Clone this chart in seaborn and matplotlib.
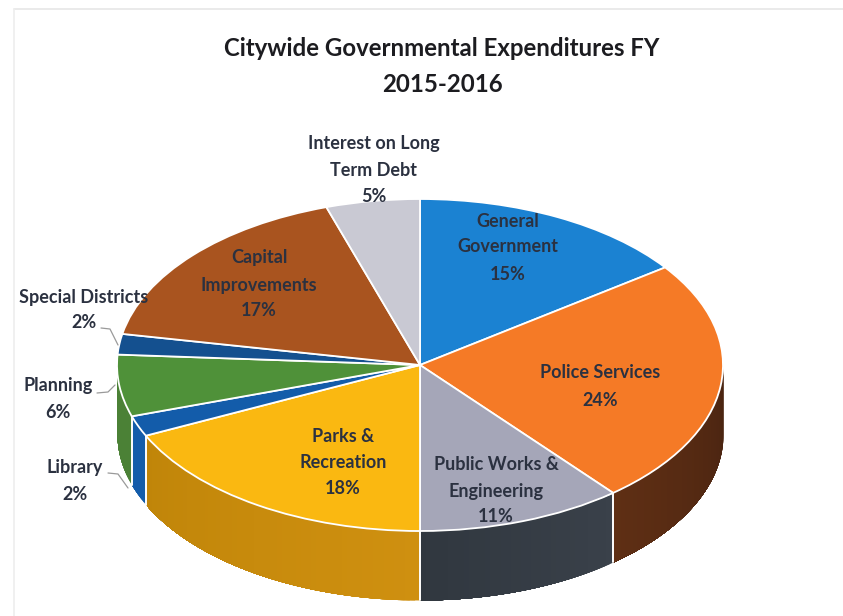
import numpy as np
import matplotlib
matplotlib.use("Agg")
import matplotlib.pyplot as plt
import seaborn as sns

# Expenditure shares, clockwise from twelve o'clock
categories = ["General Government", "Police Services", "Public Works & Engineering",
              "Parks & Recreation", "Library", "Planning", "Special Districts",
              "Capital Improvements", "Interest on Long Term Debt"]
shares = [15, 24, 11, 18, 2, 6, 2, 17, 5]

top_hex = ["#1b82d2", "#f57a26", "#a5a6b8", "#fab811", "#135caa",
           "#4f9139", "#14508f", "#a9541f", "#c9c9d3"]
wall_start = {1: "#4a2411", 2: "#3a414a", 3: "#cf9010"}
wall_hex = ["#125a99", "#5f2f14", "#30373f", "#c08509", "#135caa",
            "#4b8136", "#14508f", "#7a3c16", "#8f8f96"]

W, H = 843, 616
CX, CY, RX, RY, DEPTH = 420, 365, 303, 166, 69

sns.set_theme(style="white")
plt.rcParams["font.family"] = ["Lato", "DejaVu Sans"]
palette = sns.color_palette(top_hex)

fig = plt.figure(figsize=(W / 100, H / 100), dpi=100, facecolor="white")
ax = fig.add_axes([0, 0, 1, 1])

wall = DEPTH / RY
edges = np.concatenate([[0], np.cumsum(shares)]) * 3.6


def lerp(a, b, f):
    a, b = np.array(matplotlib.colors.to_rgb(a)), np.array(matplotlib.colors.to_rgb(b))
    return tuple(a + (b - a) * f)


# Side wall of the disc: only the front half (90 to 270 degrees clockwise) shows.
# Each strip runs to the end of its slice and the next one paints over it, so no seams appear.
for i in range(len(shares)):
    lo, hi = max(edges[i], 90), min(edges[i + 1], 270)
    if hi <= lo:
        continue
    n = max(int(hi - lo), 1)
    for j, start in enumerate(np.linspace(lo, hi, n + 1)[:-1]):
        t = np.radians(np.linspace(start, hi, 40))
        x, y = np.sin(t), np.cos(t)
        c = lerp(wall_start.get(i, wall_hex[i]), wall_hex[i], j / n)
        ax.fill_between(x, y, y - wall, color=c, lw=0, zorder=1)

for i in range(len(shares)):
    if 90 <= edges[i] <= 270:
        t = np.radians(edges[i])
        ax.plot([np.sin(t)] * 2, [np.cos(t), np.cos(t) - wall], color="white", lw=1.4, zorder=2)

ax.pie(shares, colors=palette, startangle=90, counterclock=False, radius=1,
       wedgeprops={"edgecolor": "white", "linewidth": 1.3, "zorder": 3})
ax.set_aspect("auto")
ax.set_xlim(-CX / RX, (W - CX) / RX)
ax.set_ylim(-(H - CY) / RY, CY / RY)
ax.axis("off")


def put(px, py, text, size=13, color="#2b3140", weight="bold"):
    fig.text(px / W, 1 - py / H, text, ha="center", va="center",
             fontsize=size, color=color, fontweight=weight, zorder=6)


put(442, 49, "Citywide Governmental Expenditures FY", size=17.3, color="#1c1c20")
put(442, 84, "2015-2016", size=17.3, color="#1c1c20")

label_rows = [
    (374, [144, 170, 197], ["Interest on Long", "Term Debt", "5%"]),
    (508, [221, 247, 274], ["General", "Government", "15%"]),
    (259, [258, 285, 311], ["Capital", "Improvements", "17%"]),
    (84, [297, 323], ["Special Districts", "2%"]),
    (58, [386, 413], ["Planning", "6%"]),
    (75, [468, 494], ["Library", "2%"]),
    (343, [437, 463, 489], ["Parks &", "Recreation", "18%"]),
    (496, [464, 491, 516], ["Public Works &", "Engineering", "11%"]),
    (600, [373, 400], ["Police Services", "24%"]),
]
for px, rows, lines in label_rows:
    for py, line in zip(rows, lines):
        put(px, py, line)

# Thin leader lines from the outside labels to their slices
leaders = [
    ([101, 110, 118], [328, 329, 345]),
    ([97, 108, 115], [393, 392, 385]),
    ([108, 118, 128], [473, 474, 488]),
]
for xs, ys in leaders:
    fig.add_artist(plt.Line2D(np.array(xs) / W, 1 - np.array(ys) / H, color="#9a9a9a", lw=0.9))

# Faint frame remnants along the top and left
fig.add_artist(plt.Line2D([14 / W, 1], [1 - 9 / H] * 2, color="#e6e6e6", lw=1.2))
fig.add_artist(plt.Line2D([14 / W] * 2, [0, 1 - 9 / H], color="#eeeeee", lw=1.2))

fig.savefig("out.png", dpi=100, facecolor="white")
